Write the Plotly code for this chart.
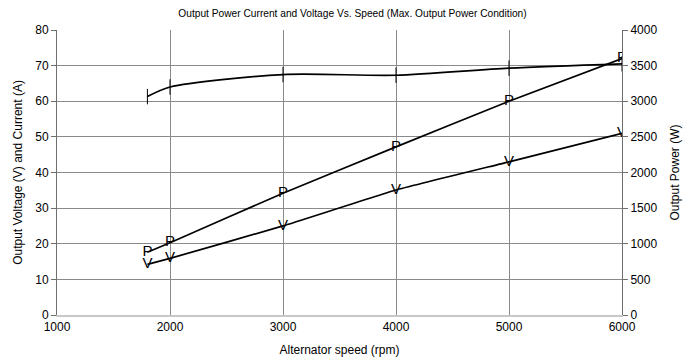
import plotly.graph_objects as go

speed_current = [1800, 2000, 3000, 4000, 5000, 6000]
current = [61.3, 64.0, 67.5, 67.3, 69.3, 70.5]

speed_voltage = [1800, 2000, 3000, 4000, 5000, 6000]
voltage = [14.2, 15.9, 25.0, 35.1, 43.0, 51.0]

speed_power = [1800, 2000, 3000, 4000, 5000, 6000]
power = [880, 1015, 1710, 2360, 3000, 3600]

x_ticks = [1000, 2000, 3000, 4000, 5000, 6000]
left_ticks = [0, 10, 20, 30, 40, 50, 60, 70, 80]
right_ticks = [0, 500, 1000, 1500, 2000, 2500, 3000, 3500, 4000]

FONT = "Liberation Sans, Arial, sans-serif"

fig = go.Figure()

fig.add_trace(go.Scatter(
    x=speed_current, y=current, mode="lines+markers", name="Current",
    line=dict(color="black", width=1.7, shape="spline", smoothing=0.8),
    marker=dict(symbol="line-ns", size=11, line=dict(color="black", width=1)),
    yaxis="y"))

fig.add_trace(go.Scatter(
    x=speed_voltage, y=voltage, mode="lines+text", name="Voltage",
    text=["V"] * len(voltage), textposition="middle center",
    textfont=dict(family=FONT, size=15, color="black"),
    line=dict(color="black", width=1.7, shape="spline", smoothing=0.3),
    yaxis="y"))

fig.add_trace(go.Scatter(
    x=speed_power, y=power, mode="lines+text", name="Power",
    text=["P"] * len(power), textposition="middle center",
    textfont=dict(family=FONT, size=15, color="black"),
    line=dict(color="black", width=1.7, shape="spline", smoothing=0.3),
    yaxis="y2"))

fig.update_layout(
    width=689, height=352,
    margin=dict(l=49, r=75, t=22, b=45, autoexpand=False),
    paper_bgcolor="white", plot_bgcolor="white",
    showlegend=False,
    font=dict(family=FONT, size=12, color="black"),
    title=dict(text="Output Power Current and Voltage Vs. Speed (Max. Output Power Condition)",
               x=0.5, xanchor="center", y=0.985, yanchor="middle",
               font=dict(family=FONT, size=10.2, color="black")),
    xaxis=dict(range=[1000, 6000], tickvals=x_ticks, ticktext=[str(v) for v in x_ticks],
               showgrid=True, gridcolor="#8a8a8a", gridwidth=1,
               showline=True, linecolor="#c8c8c8", linewidth=2,
               ticks="", zeroline=False, automargin=False,
               title=dict(text="Alternator speed (rpm)", font=dict(family=FONT, size=12), standoff=12),
               tickfont=dict(family=FONT, size=12)),
    yaxis=dict(range=[0, 80], tickvals=left_ticks,
               showgrid=True, gridcolor="#8a8a8a", gridwidth=1,
               showline=True, linecolor="#6e6e6e", linewidth=1,
               ticks="outside", ticklen=5, tickcolor="#6e6e6e", zeroline=False, automargin=False,
               title=dict(text="Output Voltage (V) and Current (A)", font=dict(family=FONT, size=12), standoff=10),
               tickfont=dict(family=FONT, size=12)),
    yaxis2=dict(range=[0, 4000], tickvals=right_ticks, overlaying="y", side="right",
                showgrid=False, showline=True, linecolor="#6e6e6e", linewidth=1,
                ticks="outside", ticklen=5, tickcolor="#6e6e6e", zeroline=False, automargin=False,
                title=dict(text="Output Power (W)", font=dict(family=FONT, size=12), standoff=14),
                tickfont=dict(family=FONT, size=12)),
)

fig.write_html("out.html")
